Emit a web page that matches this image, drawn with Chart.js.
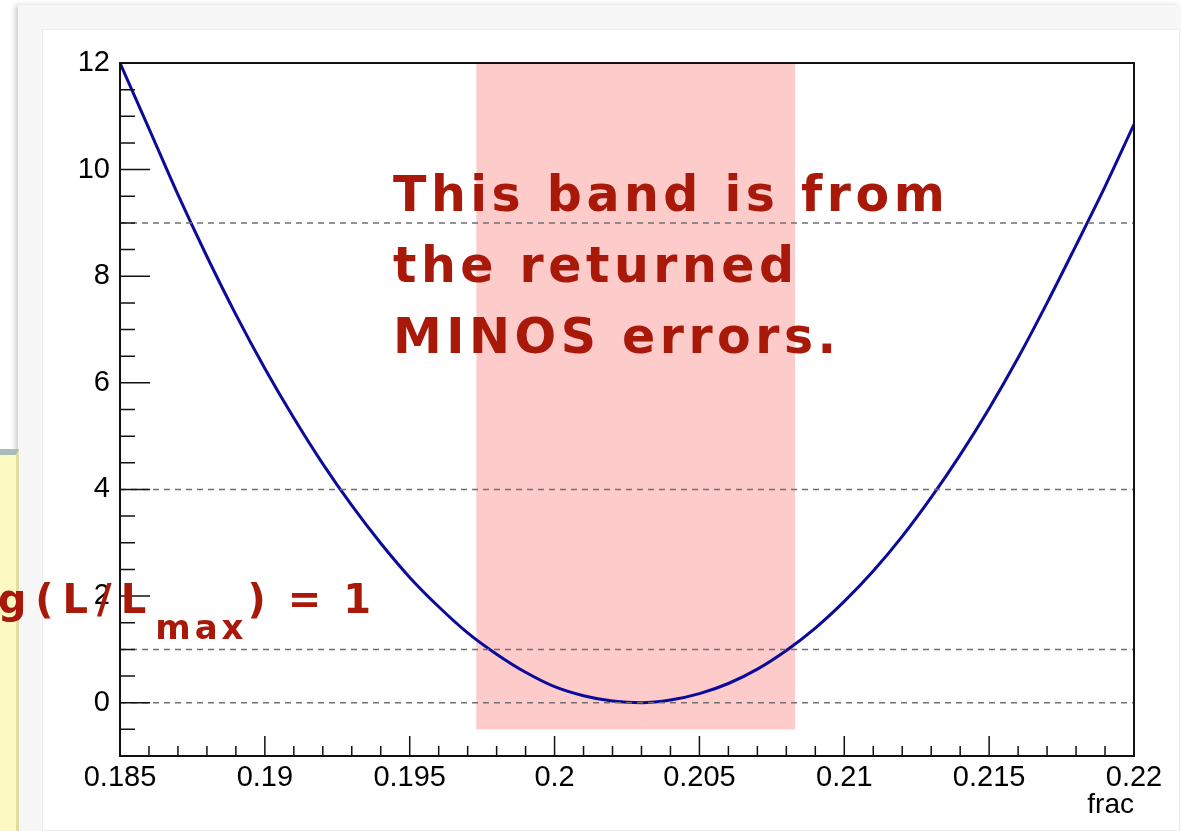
<!doctype html>
<html lang="en">
<head>
<meta charset="utf-8">
<script src="https://cdn.jsdelivr.net/npm/chart.js@4.4.1/dist/chart.umd.min.js"></script>
<title>frac likelihood scan</title>
<style>
    body { margin: 0; width: 1181px; height: 831px; overflow: hidden; position: relative; background: #fff; font-family: "Liberation Sans", Arial, sans-serif; }
    #frame { position: absolute; left: 18px; top: 5px; right: 0; bottom: 0; background: #f7f7f7; box-shadow: -3px 0 5px rgba(0,0,0,0.18); }
    #panel { position: absolute; left: 42px; top: 29px; width: 1136px; bottom: 0; background: #fff; border: 1px solid #ececec; }
    #note { position: absolute; left: 0; top: 449px; width: 16px; bottom: 0; background: #fcf9c3; border-top: 6px solid #a8bcbc; border-right: 3px solid #e2de9f; }
    #chart { position: absolute; left: 0; top: 0; }
    .hand { position: absolute; color: #a8190a; font-family: "DejaVu Sans", sans-serif; font-weight: bold; white-space: nowrap; }
    #bandNote { left: 393px; top: 159px; font-size: 49px; line-height: 71px; letter-spacing: 4.5px; }
    #levelNote { right: 806px; top: 575px; font-size: 40px; line-height: 48px; letter-spacing: 4px; }
    #levelNote .wide { letter-spacing: 9px; }
    #levelNote sub { font-size: 34px; vertical-align: -26px; line-height: 0; }
</style>
</head>
<body>
<div id="frame"></div>
<div id="panel"></div>
<div id="note"></div>
<canvas id="chart" width="1181" height="831"></canvas>
<div class="hand" id="bandNote">This band is from<br>the returned<br>MINOS errors.</div>
<div class="hand" id="levelNote">−2 lo<span class="wide">g(L/L</span><sub>max</sub>) = 1</div>

<script>
    // scan of -2 log(L/Lmax) vs frac
    const fracValues = [0.185, 0.186, 0.187, 0.188, 0.189, 0.190, 0.191, 0.192, 0.193, 0.194,
        0.195, 0.196, 0.197, 0.198, 0.199, 0.200, 0.201, 0.202, 0.203, 0.204,
        0.205, 0.206, 0.207, 0.208, 0.209, 0.210, 0.211, 0.212, 0.213, 0.214,
        0.215, 0.216, 0.217, 0.218, 0.219, 0.220];
    const nllValues = [12.0, 10.77, 9.53, 8.37, 7.28, 6.27, 5.34, 4.48, 3.70, 2.99,
        2.35, 1.80, 1.31, 0.91, 0.57, 0.30, 0.13, 0.03, 0.00, 0.05,
        0.17, 0.36, 0.63, 0.98, 1.40, 1.90, 2.47, 3.12, 3.85, 4.65,
        5.52, 6.47, 7.50, 8.58, 9.68, 10.85];

    // dashed reference levels
    const levelLines = [0, 1, 4, 9];

    // MINOS band
    const bandLow = 0.1973;
    const bandHigh = 0.2083;
    const bandBottom = -0.5;
    const bandTop = 12;

    const xTickLabels = [0.185, 0.19, 0.195, 0.2, 0.205, 0.21, 0.215, 0.22];
    const yTickLabels = [0, 2, 4, 6, 8, 10, 12];

    const xMin = 0.185, xMax = 0.22, yMin = -1, yMax = 12;

    const datasets = levelLines.map(function (v) {
        return {
            data: [{x: xMin, y: v}, {x: xMax, y: v}],
            borderColor: '#707070',
            borderWidth: 1.5,
            borderDash: [6, 5],
            pointRadius: 0
        };
    });
    datasets.push({
        data: fracValues.map(function (f, i) { return {x: f, y: nllValues[i]}; }),
        borderColor: '#0b0b9a',
        borderWidth: 3,
        pointRadius: 0,
        cubicInterpolationMode: 'monotone'
    });

    const rootAxes = {
        id: 'rootAxes',
        beforeDatasetsDraw(chart) {
            const ctx = chart.ctx, x = chart.scales.x, y = chart.scales.y;
            ctx.save();
            ctx.fillStyle = '#fecbcb';
            const l = x.getPixelForValue(bandLow), r = x.getPixelForValue(bandHigh);
            const t = y.getPixelForValue(bandTop), b = y.getPixelForValue(bandBottom);
            ctx.fillRect(l, t, r - l, b - t);
            ctx.restore();
        },
        afterDatasetsDraw(chart) {
            const ctx = chart.ctx, a = chart.chartArea, x = chart.scales.x, y = chart.scales.y;
            ctx.save();
            ctx.strokeStyle = '#111';
            ctx.lineWidth = 1.5;
            ctx.beginPath();
            // y ticks every 0.5, major every 2
            for (let v = yMin; v <= yMax + 1e-9; v += 0.5) {
                const p = y.getPixelForValue(v);
                const len = (Math.abs(v % 2) < 1e-9) ? 30 : 15;
                ctx.moveTo(a.left, p);
                ctx.lineTo(a.left + len, p);
            }
            // x ticks every 0.001, major every 0.005
            for (let i = 0; i <= 35; i++) {
                const p = x.getPixelForValue(xMin + i * 0.001);
                const len = (i % 5 === 0) ? 20 : 10;
                ctx.moveTo(p, a.bottom);
                ctx.lineTo(p, a.bottom - len);
            }
            ctx.stroke();
            ctx.lineWidth = 2;
            ctx.strokeRect(a.left, a.top, a.right - a.left, a.bottom - a.top);
            ctx.restore();
        }
    };

    const labelFont = {size: 29, family: '"Liberation Sans", Arial, sans-serif'};

    const chart = new Chart(document.getElementById('chart'), {
        type: 'line',
        data: {datasets: datasets},
        options: {
            responsive: false,
            animation: false,
            layout: {padding: {left: 0, top: 63, right: 47, bottom: 0}},
            plugins: {legend: {display: false}, tooltip: {enabled: false}},
            scales: {
                x: {
                    type: 'linear',
                    min: xMin,
                    max: xMax,
                    grid: {display: false, drawTicks: false},
                    border: {display: false},
                    afterBuildTicks: function (s) { s.ticks = xTickLabels.map(function (v) { return {value: v}; }); },
                    afterFit: function (s) { s.height = 75; },
                    ticks: {
                        color: '#000',
                        font: labelFont,
                        padding: 5,
                        maxRotation: 0,
                        autoSkip: false,
                        callback: function (v) { return String(v); }
                    },
                    title: {
                        display: true,
                        text: 'frac',
                        align: 'end',
                        color: '#000',
                        font: {size: 28, family: '"Liberation Sans", Arial, sans-serif'},
                        padding: {top: 0, bottom: 9}
                    }
                },
                y: {
                    type: 'linear',
                    min: yMin,
                    max: yMax,
                    grid: {display: false, drawTicks: false},
                    border: {display: false},
                    afterBuildTicks: function (s) { s.ticks = yTickLabels.map(function (v) { return {value: v}; }); },
                    afterFit: function (s) { s.width = 120; },
                    ticks: {
                        color: '#000',
                        font: labelFont,
                        padding: 10,
                        callback: function (v) { return String(v); }
                    }
                }
            }
        },
        plugins: [rootAxes]
    });
</script>
</body>
</html>
